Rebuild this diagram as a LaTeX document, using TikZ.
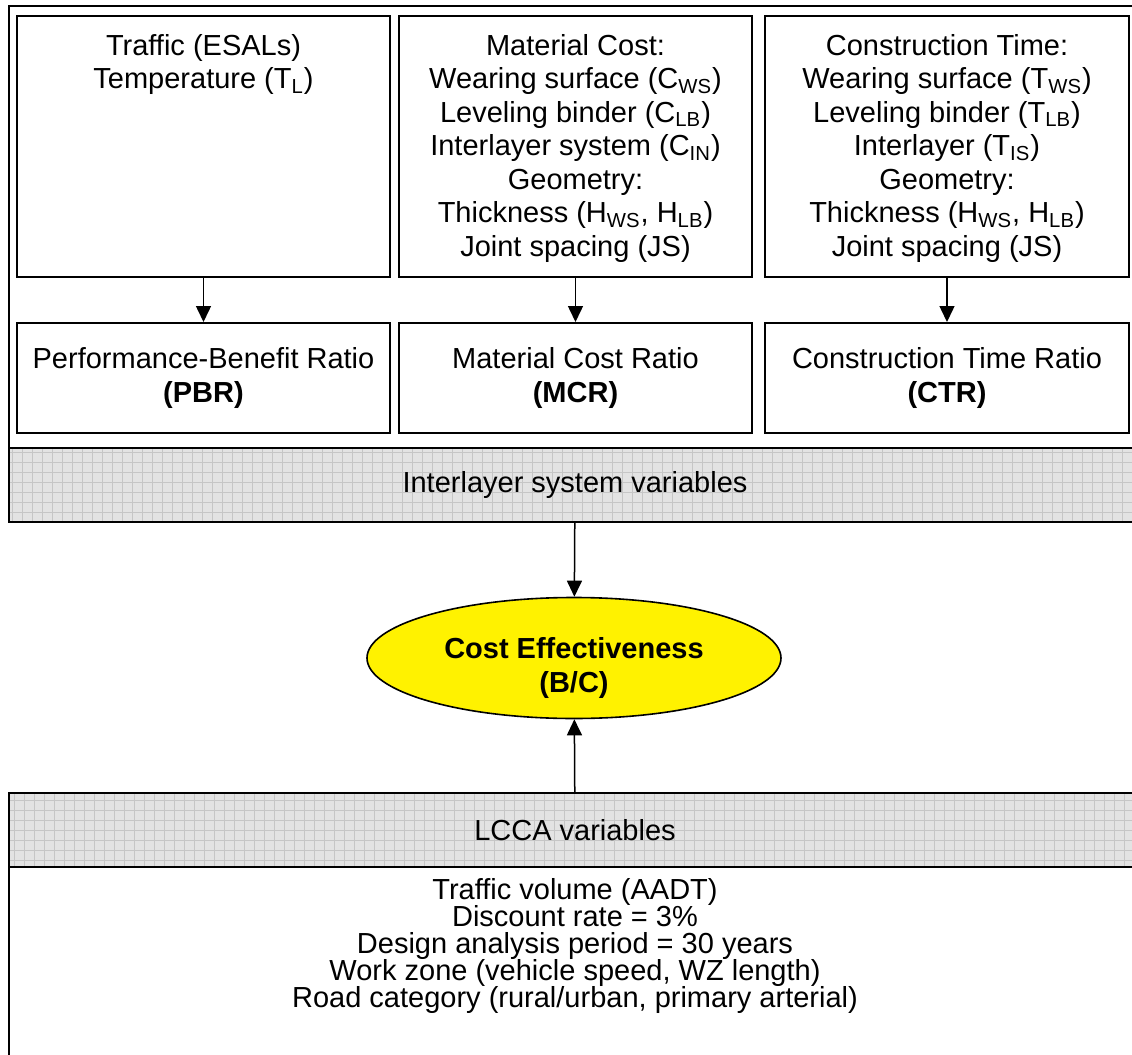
\documentclass[tikz,border=0pt]{standalone}
\usepackage{fontspec}
\setmainfont{Liberation Sans}
\usetikzlibrary{arrows.meta, positioning, shapes.geometric}
\newcommand{\tightlines}{\lineskiplimit=-8pt\relax}

\begin{document}
\begin{tikzpicture}[x=0.5pt, y=-0.5pt, font=\fontsize{14.5}{16.75}\selectfont,
  varbox/.style={draw, line width=1pt, anchor=north west, inner sep=0pt, minimum height=130.5pt},
  ratiobox/.style={draw, line width=1pt, anchor=north west, inner sep=0pt, align=center, minimum height=55pt},
  txt/.style={align=center, inner sep=0pt},
  band/.style={draw, line width=1pt, anchor=north west, inner sep=0pt, fill=gray!22,
    minimum width=566pt, minimum height=37pt,
    path picture={\draw[gray!45, line width=0.4pt, step=5pt]
      (path picture bounding box.south west) grid (path picture bounding box.north east);}},
  arr/.style={-{Triangle[length=8pt, width=7.5pt]}, line width=0.75pt}]
  \useasboundingbox (0,0) rectangle (1132,1055);
  \clip (0,0) rectangle (1132,1055);

  % frame round the interlayer part
  \node[draw, line width=1pt, anchor=north west, inner sep=0pt, minimum width=566pt, minimum height=258pt] (frame) at (8,5) {};

  % input boxes
  \node[varbox, minimum width=186.5pt] (traffic) at (16,15) {};
  \node[varbox, minimum width=176.5pt] (matcost) at (398,15) {};
  \node[varbox, minimum width=182pt] (contime) at (764,15) {};

  \node[txt, below=9.5pt of traffic.north] {Traffic (ESALs)\\Temperature (T\textsubscript{L})};
  \node[txt, below=9.5pt of matcost.north] {Material Cost:\\Wearing surface (C\textsubscript{WS})\\Leveling binder (C\textsubscript{LB})\\Interlayer system (C\textsubscript{IN})\\Geometry:\\Thickness (H\textsubscript{WS}, H\textsubscript{LB})\\Joint spacing (JS)};
  \node[txt, below=9.5pt of contime.north] {Construction Time:\\Wearing surface (T\textsubscript{WS})\\Leveling binder (T\textsubscript{LB})\\Interlayer (T\textsubscript{IS})\\Geometry:\\Thickness (H\textsubscript{WS}, H\textsubscript{LB})\\Joint spacing (JS)};

  % ratios
  \node[ratiobox, minimum width=186.5pt] (pbr) at (16,322) {Performance-Benefit Ratio\\\textbf{(PBR)}};
  \node[ratiobox, minimum width=176.5pt] (mcr) at (398,322) {Material Cost Ratio\\\textbf{(MCR)}};
  \node[ratiobox, minimum width=182pt] (ctr) at (764,322) {Construction Time Ratio\\\textbf{(CTR)}};

  \draw[arr] (traffic) -- (pbr);
  \draw[arr] (matcost) -- (mcr);
  \draw[arr] (contime) -- (ctr);

  % bands
  \node[band] (isv) at (8,447) {Interlayer system variables};
  \node[band] (lcca) at (8,792) {LCCA variables};

  \node[ellipse, draw, line width=0.8pt, fill=yellow, minimum width=207pt, minimum height=60.5pt, inner sep=0pt] (bc) at (574,658) {};
  \node[txt, font=\fontsize{14.5}{16.75}\selectfont\bfseries, yshift=-5pt] at (bc.center) {Cost Effectiveness\\(B/C)};

  \draw[arr] (isv) -- (bc);
  \draw[arr] (lcca) -- (bc);

  % LCCA inputs
  \node[draw, line width=1pt, anchor=north west, inner sep=0pt, minimum width=566pt, minimum height=120pt] (lccabox) at (8,866) {};
  \node[txt, below=6pt of lccabox.north, font=\fontsize{14.5}{13.5}\selectfont\tightlines] {Traffic volume (AADT)\\Discount rate = 3\%\\Design analysis period = 30 years\\Work zone (vehicle speed, WZ length)\\Road category (rural/urban, primary arterial)};
\end{tikzpicture}
\end{document}
